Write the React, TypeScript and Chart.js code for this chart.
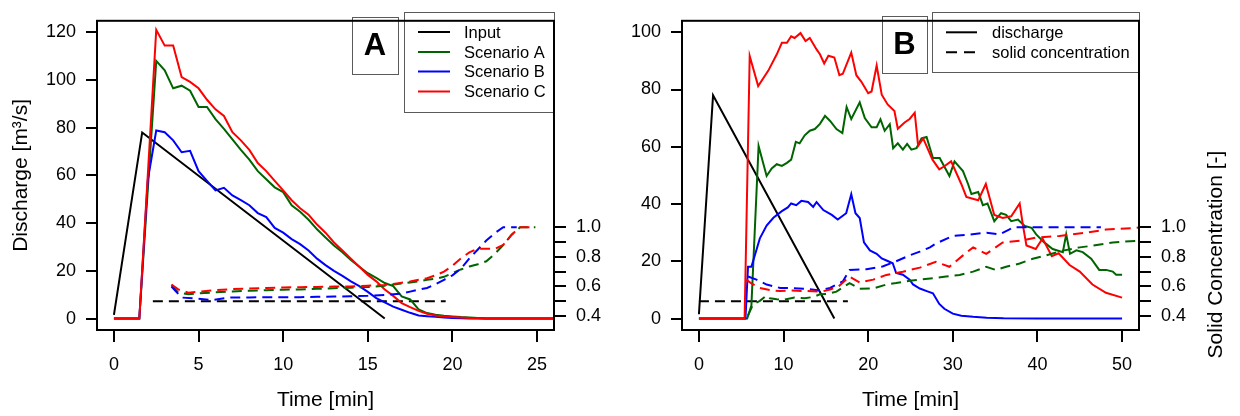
import React, { useEffect, useRef } from "react";
import { Chart, registerables } from "chart.js";

Chart.register(...registerables);

const FONT = "'Liberation Sans', Arial, Helvetica, sans-serif";
const COLOR_INPUT = "#000000";
const COLOR_SCEN_A = "#006400";
const COLOR_SCEN_B = "#0000ff";
const COLOR_SCEN_C = "#ff0000";

// ---------------- DATA ----------------
// Input hydrograph (both panels)
const timeInput = [0, 1.67, 16];
const dischargeInput = [1.5, 78, 0];

// Panel A discharge
const timeA = [0, 0.5, 1, 1.5, 2, 2.5, 3, 3.5, 4, 4.5, 5, 5.5, 6, 6.5, 7, 7.5, 8, 8.5, 9, 9.5, 10, 10.5, 11, 11.5, 12, 12.5, 13, 13.5, 14, 14.5, 15, 15.5, 16, 16.5, 17, 17.5, 18, 18.5, 19, 19.5, 20, 20.5, 21, 21.5, 22, 23, 24, 25, 26, 27];
const dischargeA_scenA = [0, 0, 0, 0, 54, 108, 104, 96.5, 97.6, 95.5, 88.7, 88.7, 83.6, 79.5, 75.1, 70.7, 66.6, 61.8, 58.4, 55.0, 53.0, 47.5, 44.8, 41.4, 37.4, 34.0, 30.6, 27.8, 24.5, 21.7, 19.0, 17.0, 14.9, 13.6, 9.3, 8.0, 3.8, 2.3, 1.6, 1.2, 0.9, 0.6, 0.4, 0.2, 0, 0, 0, 0, 0, 0];
const dischargeA_scenB = [0, 0, 0, 0, 58, 78.8, 78.1, 74.7, 69.7, 70.3, 61.8, 57.7, 53.7, 54.8, 51.6, 49.6, 47.5, 44.2, 42.5, 38.0, 36.0, 33.3, 31.2, 28.5, 25.1, 22.4, 20.0, 17.9, 15.6, 13.6, 11.2, 8.6, 6.8, 5.0, 3.7, 2.4, 1.3, 1.0, 0.7, 0.4, 0.2, 0.1, 0, 0, 0, 0, 0, 0, 0, 0];
const dischargeA_scenC = [0, 0, 0, 0, 60, 121, 114.4, 114.4, 101.2, 99.2, 96.5, 91.7, 87.7, 84.9, 78.1, 74.7, 70.7, 65.2, 61.8, 57.7, 53.7, 49.6, 46.2, 43.5, 39.4, 36.0, 31.9, 28.5, 25.1, 21.7, 18.3, 15.6, 12.2, 9.5, 6.5, 4.8, 3.2, 2.0, 1.3, 0.9, 0.6, 0.4, 0.2, 0.1, 0, 0, 0, 0, 0, 0];

// Panel A solid concentration
const concTimeA_input = [2.3, 19.6];
const concA_input = [0.5, 0.5];
const concTimeA_AC = [3.4, 3.8, 4.4, 5, 6, 7, 8, 9, 10, 11, 12, 13, 14, 15, 16, 16.5, 17, 17.5, 18, 18.5, 19, 19.5, 20, 20.5, 21, 21.5, 22, 22.5, 23, 23.5, 24, 24.9];
const concA_scenA = [0.61, 0.558, 0.548, 0.553, 0.56, 0.566, 0.571, 0.575, 0.578, 0.58, 0.584, 0.588, 0.592, 0.596, 0.605, 0.613, 0.62, 0.627, 0.634, 0.645, 0.652, 0.665, 0.69, 0.715, 0.735, 0.75, 0.77, 0.82, 0.88, 0.95, 1.0, 1.0];
const concA_scenC = [0.613, 0.58, 0.558, 0.565, 0.575, 0.582, 0.587, 0.59, 0.593, 0.595, 0.597, 0.599, 0.6, 0.605, 0.61, 0.617, 0.625, 0.634, 0.645, 0.656, 0.675, 0.7, 0.74, 0.79, 0.83, 0.855, 0.855, 0.853, 0.88, 0.95, 1.0, 1.0];
const concTimeA_B = [3.4, 4.0, 4.75, 5.8, 6.8, 8, 9, 10, 11, 12, 13, 14, 15, 16, 17, 17.5, 18, 18.5, 19, 19.5, 20, 20.5, 21, 21.5, 22, 22.5, 23, 23.8];
const concA_scenB = [0.6, 0.525, 0.52, 0.508, 0.525, 0.526, 0.527, 0.528, 0.528, 0.53, 0.532, 0.534, 0.537, 0.543, 0.552, 0.565, 0.578, 0.59, 0.615, 0.645, 0.675, 0.72, 0.79, 0.85, 0.91, 0.96, 1.0, 1.0];

// Panel B discharge
const timeB_scenA = [0, 5.7, 6.2, 7.05, 8.0, 8.6, 9.2, 9.8, 10.4, 10.9, 11.45, 11.9, 12.5, 13.1, 13.7, 14.3, 14.9, 15.5, 16.25, 16.95, 17.45, 18.0, 19.0, 19.6, 20.4, 21.0, 21.45, 21.95, 22.55, 22.95, 23.5, 24.1, 24.6, 25.1, 25.7, 26.3, 26.9, 27.65, 28.45, 29.6, 30.2, 31.2, 31.8, 32.2, 33.0, 33.55, 34.1, 34.9, 35.7, 36.3, 36.9, 37.7, 38.5, 39.3, 39.85, 40.8, 41.8, 43.0, 43.4, 43.85, 44.6, 45.35, 46.35, 47.3, 48.1, 48.9, 49.3, 50.0];
const dischargeB_scenA = [0, 0, 4.5, 60.3, 49.8, 52.4, 53.9, 53.3, 54.4, 55.5, 61.7, 61.2, 64.0, 65.6, 66.2, 68.0, 70.8, 69.0, 66.2, 64.8, 73.9, 69.7, 75.5, 70.0, 66.8, 66.8, 69.6, 65.6, 67.9, 59.5, 61.2, 59.0, 61.0, 59.0, 59.5, 62.9, 63.4, 56.1, 56.1, 49.8, 54.9, 51.5, 47.0, 43.5, 44.2, 39.6, 40.2, 34.0, 36.8, 36.2, 34.0, 34.6, 32.3, 31.7, 29.4, 26.6, 24.3, 23.2, 29.4, 22.6, 23.8, 23.2, 20.9, 17.0, 17.0, 16.4, 15.3, 15.3];
const timeB_scenB = [0, 5.5, 5.8, 6.2, 6.6, 7.2, 8.0, 8.8, 9.8, 10.5, 10.9, 11.5, 12.1, 12.9, 13.5, 13.9, 14.7, 15.7, 16.4, 17.4, 18.0, 18.5, 19.0, 19.5, 20.2, 21.0, 21.6, 22.3, 22.9, 23.3, 24.1, 24.9, 25.3, 26.1, 27.0, 27.65, 28.4, 29.0, 30.0, 31.0, 32.4, 34.0, 36.0, 40.0, 50.0];
const dischargeB_scenB = [0, 0, 18.1, 18.1, 22.0, 28.0, 32.5, 35.2, 37.5, 38.8, 40.2, 39.6, 41.1, 40.7, 39.0, 40.7, 37.9, 36.2, 34.6, 36.8, 43.4, 36.8, 35.1, 26.6, 23.8, 22.6, 21.0, 20.1, 19.3, 15.9, 15.3, 13.6, 11.9, 10.5, 9.5, 8.8, 5.1, 3.4, 1.7, 1.0, 0.6, 0.3, 0.1, 0, 0];
const timeB_scenC = [0, 5.4, 6.0, 7.0, 8.2, 9.2, 9.8, 10.4, 10.9, 11.3, 12.0, 12.6, 13.1, 13.9, 14.3, 14.8, 15.3, 16.0, 16.6, 17.0, 18.0, 18.6, 19.2, 20.0, 20.4, 21.0, 21.6, 22.3, 23.1, 23.5, 24.3, 24.9, 25.5, 25.9, 26.5, 27.6, 28.4, 29.0, 29.8, 31.0, 31.6, 33.0, 33.9, 34.9, 35.9, 36.9, 37.9, 38.3, 38.7, 39.8, 40.6, 41.7, 42.5, 43.8, 45.0, 46.5, 48.1, 50.0];
const dischargeB_scenC = [0, 0, 91.7, 81.2, 86.6, 92.3, 96.3, 96.3, 98.6, 98.0, 99.7, 96.9, 98.0, 94.0, 92.3, 89.1, 91.8, 91.2, 85.0, 85.5, 92.9, 85.0, 82.7, 78.7, 79.3, 88.4, 78.2, 74.8, 72.5, 66.3, 68.5, 69.7, 71.9, 60.3, 62.9, 55.5, 52.1, 53.2, 54.9, 47.0, 42.5, 41.3, 47.0, 36.2, 35.1, 35.7, 40.2, 32.3, 25.5, 24.3, 28.0, 21.8, 22.8, 18.7, 16.4, 11.9, 9.0, 7.3];

// Panel B solid concentration
const concTimeB_input = [0, 17.6];
const concB_input = [0.5, 0.5];
const concTimeB_A = [5.8, 6.4, 7.2, 8.0, 8.4, 9.2, 10.0, 11.3, 12.5, 13.5, 14.3, 15.1, 16.25, 17.8, 19.0, 20.6, 22.15, 23.3, 24.9, 26.1, 27.7, 29.2, 30.8, 32.4, 33.95, 35.1, 36.3, 37.9, 39.45, 41.0, 43.0, 45.0, 46.5, 48.9, 51.65, 55.0];
const concB_scenA = [0.405, 0.48, 0.503, 0.54, 0.52, 0.514, 0.51, 0.525, 0.52, 0.529, 0.547, 0.55, 0.565, 0.623, 0.585, 0.586, 0.613, 0.623, 0.639, 0.646, 0.656, 0.667, 0.678, 0.7, 0.733, 0.711, 0.733, 0.755, 0.787, 0.81, 0.842, 0.864, 0.875, 0.897, 0.908, 0.915];
const concTimeB_B = [5.8, 6.8, 8.0, 9.6, 11.2, 12.8, 14.3, 15.5, 17.0, 17.8, 19.8, 21.7, 23.3, 24.9, 26.1, 27.3, 28.0, 30.0, 32.0, 34.0, 35.5, 36.7, 37.1, 40.0, 44.0, 47.5];
const concB_scenB = [0.667, 0.646, 0.613, 0.59, 0.588, 0.584, 0.573, 0.59, 0.634, 0.711, 0.716, 0.735, 0.77, 0.81, 0.835, 0.864, 0.89, 0.941, 0.951, 0.963, 0.951, 0.985, 1.0, 1.0, 1.0, 1.0];
const concTimeB_C = [5.6, 6.2, 7.2, 8.4, 9.6, 11.0, 12.7, 14.5, 15.5, 16.5, 17.8, 19.0, 20.6, 22.15, 24.1, 26.1, 28.0, 29.6, 31.2, 32.4, 33.95, 35.9, 37.9, 39.85, 42.6, 45.75, 48.1, 51.65, 55.0];
const concB_scenC = [0.646, 0.62, 0.59, 0.575, 0.569, 0.572, 0.569, 0.565, 0.58, 0.6, 0.667, 0.627, 0.646, 0.678, 0.7, 0.727, 0.766, 0.733, 0.81, 0.864, 0.82, 0.897, 0.908, 0.93, 0.941, 0.963, 0.984, 0.996, 1.01];

// Axes
const xTicksA = [0, 5, 10, 15, 20, 25];
const xTicksB = [0, 10, 20, 30, 40, 50];
const yTicksA = [0, 20, 40, 60, 80, 100, 120];
const yTicksB = [0, 20, 40, 60, 80, 100];
const concTicks = [0.4, 0.5, 0.6, 0.7, 0.8, 0.9, 1.0];
const concTickLabels = ["0.4", "", "0.6", "", "0.8", "", "1.0"];

const legendLabelsA = ["Input", "Scenario A", "Scenario B", "Scenario C"];
const legendLabelsB = ["discharge", "solid concentration"];

// ---------------- CHART ----------------
type Series = { label: string; t: number[]; v: number[]; color: string; dashed: boolean; axis: "y" | "y2" };
type LegendItem = { text: string; color: string; dashed: boolean };
type PanelSpec = {
  series: Series[];
  xMin: number; xMax: number; xTicks: number[];
  yMin: number; yMax: number; yTicks: number[];
  y2Min: number; y2Max: number;
  leftWidth: number; rightWidth: number;
  leftTitle?: string;
  rightTitle?: { text: string; x: number; y: number };
  tag: string; tagBox: [number, number, number, number];
  legendBox: [number, number, number, number];
  legendLineX: [number, number]; legendTextX: number; legendRowY: number[];
  legend: LegendItem[];
};

const DASH = [10, 6];

function buildConfig(s: PanelSpec): any {
  const datasets = s.series
    .map((se) => ({
      label: se.label,
      data: se.t.map((t, i) => ({ x: t, y: se.v[i] })),
      borderColor: se.color,
      backgroundColor: se.color,
      borderWidth: 2,
      pointRadius: 0,
      pointHoverRadius: 0,
      tension: 0,
      fill: false,
      borderDash: se.dashed ? DASH : [],
      yAxisID: se.axis,
    }))
    .reverse();

  const decor = {
    id: "decor",
    afterDraw(chart: any) {
      const { ctx, chartArea: a } = chart;
      ctx.save();
      // legend
      const [lx, ly, lw, lh] = s.legendBox;
      ctx.fillStyle = "#ffffff";
      ctx.fillRect(lx, ly, lw, lh);
      ctx.strokeStyle = "#5a5a5a";
      ctx.lineWidth = 1;
      ctx.strokeRect(lx + 0.5, ly + 0.5, lw, lh);
      ctx.font = `16.5px ${FONT}`;
      ctx.textBaseline = "middle";
      ctx.textAlign = "left";
      s.legend.forEach((it, i) => {
        const y = s.legendRowY[i];
        ctx.beginPath();
        ctx.strokeStyle = it.color;
        ctx.lineWidth = 2;
        ctx.setLineDash(it.dashed ? [11, 7] : []);
        ctx.moveTo(s.legendLineX[0], y);
        ctx.lineTo(s.legendLineX[1], y);
        ctx.stroke();
        ctx.setLineDash([]);
        ctx.fillStyle = "#000";
        ctx.fillText(it.text, s.legendTextX, y + 1);
      });
      // tag box
      const [tx, ty, tw, th] = s.tagBox;
      ctx.fillStyle = "#ffffff";
      ctx.fillRect(tx, ty, tw, th);
      ctx.strokeStyle = "#5a5a5a";
      ctx.lineWidth = 1;
      ctx.strokeRect(tx + 0.5, ty + 0.5, tw, th);
      ctx.fillStyle = "#000";
      ctx.font = `bold 31px ${FONT}`;
      ctx.textAlign = "center";
      ctx.textBaseline = "middle";
      ctx.fillText(s.tag, tx + tw / 2, ty + th / 2 + 1);
      // plot box
      ctx.strokeStyle = "#000";
      ctx.lineWidth = 2;
      ctx.strokeRect(a.left, a.top, a.right - a.left, a.bottom - a.top);
      // right title
      if (s.rightTitle) {
        ctx.translate(s.rightTitle.x, s.rightTitle.y);
        ctx.rotate(-Math.PI / 2);
        ctx.font = `21px ${FONT}`;
        ctx.textAlign = "center";
        ctx.textBaseline = "middle";
        ctx.fillText(s.rightTitle.text, 0, 0);
      }
      ctx.restore();
    },
  };

  const tickFont = { family: FONT, size: 18 };
  const titleFont = { family: FONT, size: 21 };

  return {
    type: "line",
    data: { datasets },
    plugins: [decor],
    options: {
      animation: false,
      responsive: false,
      devicePixelRatio: 1,
      layout: { padding: { left: 0, top: 12, right: 0, bottom: 0 } },
      plugins: { legend: { display: false }, tooltip: { enabled: false }, title: { display: false } },
      scales: {
        x: {
          type: "linear",
          min: s.xMin,
          max: s.xMax,
          afterBuildTicks: (sc: any) => { sc.ticks = s.xTicks.map((v) => ({ value: v })); },
          afterFit: (sc: any) => { sc.height = 86; },
          grid: { drawOnChartArea: false, drawTicks: true, tickLength: 12, color: "#000", lineWidth: 2 },
          border: { display: false },
          ticks: { color: "#000", font: tickFont, padding: 12, maxRotation: 0, autoSkip: false },
          title: { display: true, text: "Time [min]", color: "#000", font: titleFont, padding: { top: 0, bottom: 3 } },
        },
        y: {
          type: "linear",
          position: "left",
          min: s.yMin,
          max: s.yMax,
          afterBuildTicks: (sc: any) => { sc.ticks = s.yTicks.map((v) => ({ value: v })); },
          afterFit: (sc: any) => { sc.width = s.leftWidth; },
          grid: { drawOnChartArea: false, drawTicks: true, tickLength: 11, color: "#000", lineWidth: 2 },
          border: { display: false },
          ticks: { color: "#000", font: tickFont, padding: 10, autoSkip: false },
          title: {
            display: !!s.leftTitle,
            text: s.leftTitle || "",
            color: "#000",
            font: titleFont,
            padding: { top: 9, bottom: 0 },
          },
        },
        y2: {
          type: "linear",
          position: "right",
          min: s.y2Min,
          max: s.y2Max,
          afterBuildTicks: (sc: any) => { sc.ticks = concTicks.map((v) => ({ value: v })); },
          afterFit: (sc: any) => { sc.width = s.rightWidth; },
          grid: { drawOnChartArea: false, drawTicks: true, tickLength: 12, color: "#000", lineWidth: 2 },
          border: { display: false },
          ticks: {
            color: "#000",
            font: tickFont,
            padding: 10,
            autoSkip: false,
            callback: (_v: any, i: number) => concTickLabels[i],
          },
        },
      },
    },
  };
}

function Panel({ spec }: { spec: PanelSpec }) {
  const ref = useRef<HTMLCanvasElement | null>(null);
  useEffect(() => {
    if (!ref.current) return;
    const chart = new Chart(ref.current, buildConfig(spec));
    return () => chart.destroy();
  }, [spec]);
  return <canvas ref={ref} width={620} height={416} style={{ display: "block", width: 620, height: 416 }} />;
}

const specA: PanelSpec = {
  series: [
    { label: "Input", t: timeInput, v: dischargeInput, color: COLOR_INPUT, dashed: false, axis: "y" },
    { label: "Input conc.", t: concTimeA_input, v: concA_input, color: COLOR_INPUT, dashed: true, axis: "y2" },
    { label: "Scenario A", t: timeA, v: dischargeA_scenA, color: COLOR_SCEN_A, dashed: false, axis: "y" },
    { label: "Scenario B", t: timeA, v: dischargeA_scenB, color: COLOR_SCEN_B, dashed: false, axis: "y" },
    { label: "Scenario C", t: timeA, v: dischargeA_scenC, color: COLOR_SCEN_C, dashed: false, axis: "y" },
    { label: "Scenario A conc.", t: concTimeA_AC, v: concA_scenA, color: COLOR_SCEN_A, dashed: true, axis: "y2" },
    { label: "Scenario B conc.", t: concTimeA_B, v: concA_scenB, color: COLOR_SCEN_B, dashed: true, axis: "y2" },
    { label: "Scenario C conc.", t: concTimeA_AC, v: concA_scenC, color: COLOR_SCEN_C, dashed: true, axis: "y2" },
  ],
  xMin: -1, xMax: 26, xTicks: xTicksA,
  yMin: -4.8, yMax: 124.8, yTicks: yTicksA,
  y2Min: 0.306, y2Max: 2.394,
  leftWidth: 97, rightWidth: 66,
  leftTitle: "Discharge [m³/s]",
  tag: "A", tagBox: [352, 17, 46, 57],
  legendBox: [404, 12, 150, 100],
  legendLineX: [418, 450], legendTextX: 464, legendRowY: [32, 52, 71.5, 91.5],
  legend: [
    { text: legendLabelsA[0], color: COLOR_INPUT, dashed: false },
    { text: legendLabelsA[1], color: COLOR_SCEN_A, dashed: false },
    { text: legendLabelsA[2], color: COLOR_SCEN_B, dashed: false },
    { text: legendLabelsA[3], color: COLOR_SCEN_C, dashed: false },
  ],
};

const specB: PanelSpec = {
  series: [
    { label: "Input", t: timeInput, v: dischargeInput, color: COLOR_INPUT, dashed: false, axis: "y" },
    { label: "Input conc.", t: concTimeB_input, v: concB_input, color: COLOR_INPUT, dashed: true, axis: "y2" },
    { label: "Scenario A", t: timeB_scenA, v: dischargeB_scenA, color: COLOR_SCEN_A, dashed: false, axis: "y" },
    { label: "Scenario B", t: timeB_scenB, v: dischargeB_scenB, color: COLOR_SCEN_B, dashed: false, axis: "y" },
    { label: "Scenario C", t: timeB_scenC, v: dischargeB_scenC, color: COLOR_SCEN_C, dashed: false, axis: "y" },
    { label: "Scenario A conc.", t: concTimeB_A, v: concB_scenA, color: COLOR_SCEN_A, dashed: true, axis: "y2" },
    { label: "Scenario B conc.", t: concTimeB_B, v: concB_scenB, color: COLOR_SCEN_B, dashed: true, axis: "y2" },
    { label: "Scenario C conc.", t: concTimeB_C, v: concB_scenC, color: COLOR_SCEN_C, dashed: true, axis: "y2" },
  ],
  xMin: -2, xMax: 52, xTicks: xTicksB,
  yMin: -4, yMax: 104, yTicks: yTicksB,
  y2Min: 0.306, y2Max: 2.394,
  leftWidth: 62, rightWidth: 101,
  rightTitle: { text: "Solid Concentration [-]", x: 596.5, y: 254.5 },
  tag: "B", tagBox: [262, 16, 45, 57],
  legendBox: [312, 12, 207, 60],
  legendLineX: [326, 357], legendTextX: 372, legendRowY: [32.3, 52.3],
  legend: [
    { text: legendLabelsB[0], color: "#000", dashed: false },
    { text: legendLabelsB[1], color: "#000", dashed: true },
  ],
};

export default function App() {
  return (
    <div style={{ position: "absolute", left: 0, top: 0, width: 1240, height: 416, display: "flex", background: "#fff" }}>
      <Panel spec={specA} />
      <Panel spec={specB} />
    </div>
  );
}
